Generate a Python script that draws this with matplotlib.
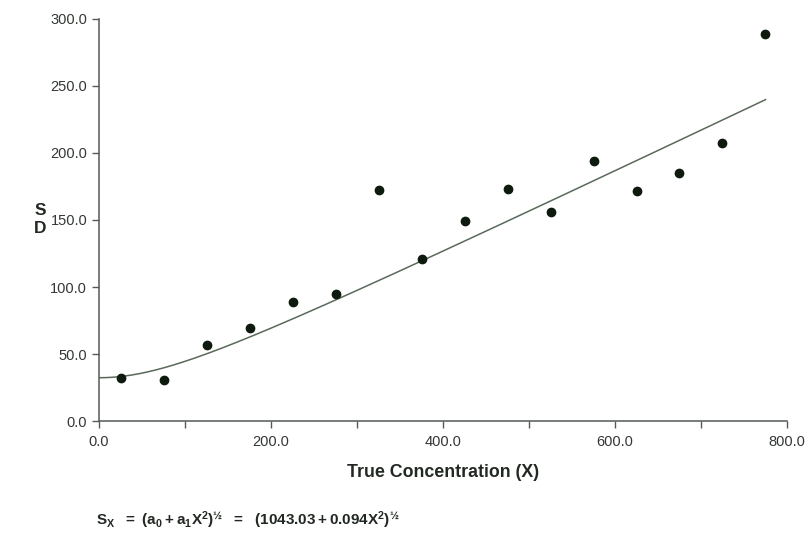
import matplotlib
matplotlib.use('Agg')
import matplotlib.pyplot as plt
import numpy as np

plt.rcParams['font.family'] = ['Liberation Sans', 'DejaVu Sans']
plt.rcParams['mathtext.fontset'] = 'custom'
plt.rcParams['mathtext.rm'] = 'Liberation Sans'
plt.rcParams['mathtext.bf'] = 'Liberation Sans:bold'
plt.rcParams['mathtext.it'] = 'Liberation Sans:bold'

# measured standard deviations at each concentration level
conc = [25, 75, 125, 175, 225, 275, 325, 375, 425, 475, 525, 575, 625, 675, 725, 775]
sd = [32.1, 30.6, 56.7, 69.4, 88.8, 94.8, 172.4, 120.9, 149.3, 173.1, 156.0, 194.0,
      171.6, 185.0, 207.5, 288.8]

# fitted variance model coefficients
a0 = 1043.03
a1 = 0.094

axis_col = '#555a55'
dot_col = '#0f1a0f'
line_col = '#5a6a5a'

fig = plt.figure(figsize=(8.09, 5.33), dpi=100)
ax = fig.add_axes([0.1224, 0.2101, 0.8504, 0.7543])

xs = np.linspace(0, max(conc), 300)
ax.plot(xs, np.sqrt(a0 + a1 * xs ** 2), color=line_col, linewidth=1.1)
ax.scatter(conc, sd, s=36, color=dot_col, zorder=3)

ax.set_xlim(0, 800)
ax.set_ylim(0, 300)
ax.set_xticks(np.arange(0, 801, 200))
ax.set_xticks(np.arange(0, 801, 100), minor=True)
ax.set_yticks(np.arange(0, 301, 50))
ax.set_xticklabels(['%.1f' % v for v in np.arange(0, 801, 200)])
ax.set_yticklabels(['%.1f' % v for v in np.arange(0, 301, 50)])

for s in ['top', 'right']:
    ax.spines[s].set_visible(False)
for s in ['left', 'bottom']:
    ax.spines[s].set_color(axis_col)
    ax.spines[s].set_linewidth(1.1)

ax.tick_params(axis='both', which='both', direction='out', color=axis_col,
               labelcolor='#333833', labelsize=10.5, length=5, width=1.0)
ax.tick_params(axis='x', pad=5)

ax.set_xlabel('True Concentration (X)', fontsize=12.8, fontweight='bold',
              color='#222822', labelpad=11)
fig.text(0.050, 0.588, 'S\nD', fontsize=12.5, fontweight='bold', color='#222822',
         ha='center', va='center', linespacing=1.2)

fig.text(0.119, 0.006,
         r'$\mathbf{S_X\ \ =\ (a_0 + a_1X^2)^{½}\ \ =\ \ (1043.03 + 0.094X^2)^{½}}$',
         fontsize=11, color='#222822', ha='left', va='bottom')

fig.savefig('out.png', dpi=100)
